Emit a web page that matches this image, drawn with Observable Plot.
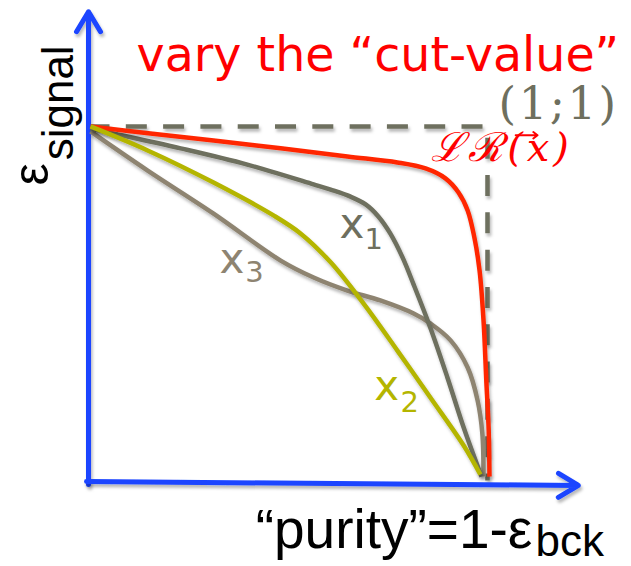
<!DOCTYPE html>
<html>
<head>
<meta charset="utf-8">
<script src="https://cdn.jsdelivr.net/npm/d3@7"></script>
<script src="https://cdn.jsdelivr.net/npm/@observablehq/plot@0.6"></script>
<style>
  html, body { margin: 0; padding: 0; background: #fff; }
  #chart { width: 631px; height: 566px; }
</style>
</head>
<body>
<div id="chart"></div>
<script>
// Efficiency curves: signal efficiency vs. purity (1 - background efficiency)
// as the cut value is varied, for the likelihood ratio and three single variables.

const lrPurity  = [0, 0.151, 0.310, 0.479, 0.647, 0.773, 0.844, 0.894, 0.927, 0.950, 0.967, 0.980, 0.990, 0.997, 1.003, 1.005];
const lrSignal  = [1.003, 0.983, 0.963, 0.941, 0.918, 0.901, 0.884, 0.856, 0.816, 0.765, 0.688, 0.595, 0.453, 0.283, 0.142, 0.011];

const x1Purity  = [0, 0.058, 0.227, 0.395, 0.562, 0.605, 0.655, 0.693, 0.725, 0.755, 0.786, 0.814, 0.856, 0.899, 0.940, 0.985];
const x1Signal  = [0.997, 0.983, 0.941, 0.895, 0.839, 0.824, 0.804, 0.782, 0.748, 0.700, 0.632, 0.555, 0.433, 0.292, 0.150, 0.011];

const x2Purity  = [0, 0.144, 0.310, 0.461, 0.529, 0.605, 0.688, 0.773, 0.856, 0.940, 0.982];
const x2Signal  = [1.003, 0.935, 0.844, 0.751, 0.700, 0.618, 0.501, 0.368, 0.235, 0.099, 0.017];

const x3Purity  = [0, 0.144, 0.310, 0.479, 0.562, 0.647, 0.730, 0.814, 0.856, 0.907, 0.950, 0.975, 0.987, 0.990];
const x3Signal  = [0.989, 0.878, 0.756, 0.623, 0.575, 0.538, 0.510, 0.473, 0.445, 0.397, 0.320, 0.227, 0.133, 0.011];

// Ideal corner (1;1): dashed guide along signal = 1 and purity = 1
const cornerPurity = [-0.005, 1, 1];
const cornerSignal = [1.003, 1.003, 0];

// Arrowed axes (start and end in data units)
const axisX = [{x1: -0.010, y1: -0.003, x2: 1.229, y2: -0.014}];
const axisY = [{x1: -0.005, y1: -0.011, x2: -0.005, y2: 1.328}];

// Vector arrow over the x in the likelihood-ratio label
const vecArrow = [{x1: 1.071, y1: 0.978, x2: 1.126, y2: 0.978}];

// Text annotations and their anchors (data units)
const titleText = "vary the “cut-value”";
const cornerText = "(1;1)";
const lrText = "ℒℛ(x)";
const varNames = ["x", "x", "x"];
const varSubs = ["1", "2", "3"];
const varAnchors = [[0.627, 0.688], [0.715, 0.227], [0.325, 0.589]];
const varSubAnchors = [[0.690, 0.657], [0.781, 0.193], [0.390, 0.561]];
const xLabelMain = "“purity”=1-ε";
const xLabelSub = "bck";
const yLabelMain = "ε";
const yLabelSub = "signal";

const pts = (xs, ys) => xs.map((x, i) => ({x, y: ys[i]}));

const colors = {
  lr: "#ff2600",
  x1: "#6e6f5e",
  x2: "#b4b500",
  x3: "#8e8471",
  guide: "#6e6f5e",
  axis: "#1a44ff"
};

function label(text, x, y, opts) {
  return Plot.text([{x, y, text}], {x: "x", y: "y", text: "text", textAnchor: "start", lineAnchor: "bottom", ...opts});
}

const curve = (xs, ys, stroke) =>
  Plot.line(pts(xs, ys), {x: "x", y: "y", curve: "catmull-rom", stroke, strokeWidth: 4.5, strokeLinecap: "butt"});

const axisArrow = (data) =>
  Plot.arrow(data, {x1: "x1", y1: "y1", x2: "x2", y2: "y2", stroke: colors.axis, strokeWidth: 5, headLength: 7, headAngle: 62});

const varColors = [colors.x1, colors.x2, colors.x3];

const scales = {
  x: {domain: [0, 1], range: [90, 487], axis: null},
  y: {domain: [0, 1], range: [480, 127], axis: null}
};

const svg = Plot.plot({
  width: 631,
  height: 566,
  margin: 0,
  ...scales,
  style: {background: "white", overflow: "visible"},
  marks: [
    Plot.line(pts(cornerPurity, cornerSignal), {x: "x", y: "y", stroke: colors.guide, strokeWidth: 4.5, strokeDasharray: "21,16.3", strokeLinecap: "butt", strokeLinejoin: "miter"}),
    axisArrow(axisY),
    axisArrow(axisX),
    curve(x3Purity, x3Signal, colors.x3),
    curve(x1Purity, x1Signal, colors.x1),
    curve(lrPurity, lrSignal, colors.lr),
    curve(x2Purity, x2Signal, colors.x2),
    label(titleText, 0.116, 1.161, {fill: "#ff0000", fontFamily: "DejaVu Sans", fontSize: 47.5}),
    label(cornerText, 1.028, 1.025, {fill: colors.guide, fontFamily: "DejaVu Serif", fontSize: 45}),
    label(lrText, 0.858, 0.906, {fill: "#ff0000", fontFamily: "DejaVu Serif", fontStyle: "italic", fontSize: 40}),
    ...varNames.map((t, i) => label(t, varAnchors[i][0], varAnchors[i][1], {fill: varColors[i], fontFamily: "DejaVu Sans", fontSize: 42})),
    ...varSubs.map((t, i) => label(t, varSubAnchors[i][0], varSubAnchors[i][1], {fill: varColors[i], fontFamily: "DejaVu Sans", fontSize: 29})),
    label(xLabelMain, 0.416, -0.190, {fill: "#000", fontFamily: "Liberation Sans", fontSize: 55}),
    label(xLabelSub, 1.121, -0.215, {fill: "#000", fontFamily: "Liberation Sans", fontSize: 44}),
    label(yLabelMain, -0.106, 0.836, {fill: "#000", fontFamily: "Liberation Sans", fontSize: 50, rotate: -90}),
    label(yLabelSub, -0.043, 0.907, {fill: "#000", fontFamily: "Liberation Sans", fontSize: 44, rotate: -90})
  ]
});

// Soft drop shadow under the heavy strokes (curves, guide and axes)
const root = d3.select(svg);
root.insert("defs", ":first-child")
  .append("filter")
  .attr("id", "soft-shadow")
  .attr("filterUnits", "userSpaceOnUse")
  .attr("x", 0).attr("y", 0).attr("width", 631).attr("height", 566)
  .append("feDropShadow")
  .attr("dx", 1.5).attr("dy", 3).attr("stdDeviation", 1.6)
  .attr("flood-color", "#000").attr("flood-opacity", 0.28);
root.selectAll('g[aria-label="line"], g[aria-label="arrow"]').attr("filter", "url(#soft-shadow)");

// The small vector arrow is rendered with the same scales, without shadow
const vec = Plot.plot({
  width: 631,
  height: 566,
  margin: 0,
  ...scales,
  marks: [
    Plot.arrow(vecArrow, {x1: "x1", y1: "y1", x2: "x2", y2: "y2", stroke: "#ff0000", strokeWidth: 2, headLength: 4, headAngle: 75})
  ]
});
d3.select(vec).selectAll('g[aria-label="arrow"]').each(function () { svg.appendChild(this); });

// Letter spacing for the corner coordinates and the likelihood-ratio label
root.selectAll("text").filter(function () { return this.textContent === cornerText; })
  .attr("letter-spacing", 2.5);
root.selectAll("text").filter(function () { return this.textContent === lrText; })
  .attr("letter-spacing", 4);

document.getElementById("chart").appendChild(svg);
</script>
</body>
</html>
